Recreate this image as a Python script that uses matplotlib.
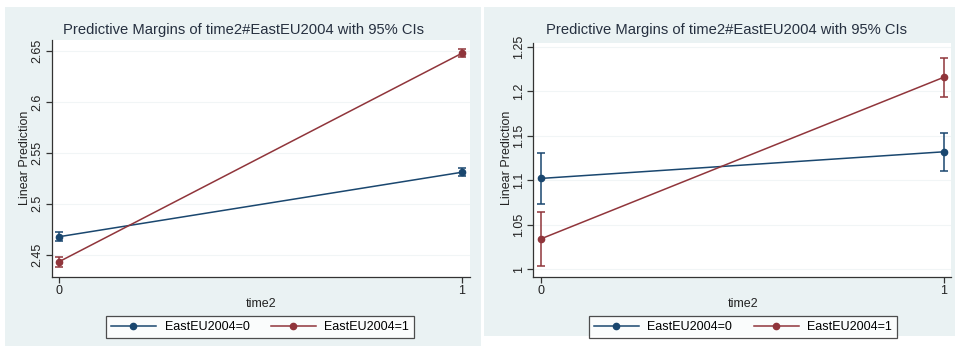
import matplotlib.pyplot as plt
from matplotlib.patches import Rectangle
from matplotlib.lines import Line2D

plt.rcParams['font.family'] = ['Liberation Sans', 'DejaVu Sans']

W, H = 958, 351

TITLE = "Predictive Margins of time2#EastEU2004 with 95% CIs"
X_VALUES = [0, 1]
LEGEND_LABELS = ["EastEU2004=0", "EastEU2004=1"]

# left panel
LEFT_EAST0 = [2.4676, 2.531]
LEFT_EAST0_CI = [0.0042, 0.0040]
LEFT_EAST1 = [2.443, 2.648]
LEFT_EAST1_CI = [0.0050, 0.0040]
LEFT_YTICKS = [2.45, 2.5, 2.55, 2.6, 2.65]
LEFT_YTICKLABELS = ["2.45", "2.5", "2.55", "2.6", "2.65"]

# right panel
RIGHT_EAST0 = [1.102, 1.132]
RIGHT_EAST0_CI = [0.029, 0.0215]
RIGHT_EAST1 = [1.034, 1.216]
RIGHT_EAST1_CI = [0.0305, 0.022]
RIGHT_YTICKS = [1.0, 1.05, 1.1, 1.15, 1.2, 1.25]
RIGHT_YTICKLABELS = ["1", "1.05", "1.1", "1.15", "1.2", "1.25"]

BLUE = '#1a476f'
RED = '#90353b'
BG = '#eaf2f3'


def px_rect(x0, y0, x1, y1):
    return [x0 / W, 1 - y1 / H, (x1 - x0) / W, (y1 - y0) / H]


fig = plt.figure(figsize=(W / 100, H / 100), dpi=100)

# panel backgrounds
for (x0, y0, x1, y1) in [(5, 7, 481, 346), (484, 7, 955, 336)]:
    fig.patches.append(Rectangle((x0 / W, 1 - y1 / H), (x1 - x0) / W, (y1 - y0) / H,
                                 transform=fig.transFigure, facecolor=BG,
                                 edgecolor='none', zorder=-5))

panels = [
    dict(rect=(52, 40, 470, 277), xlim=(-0.0174, 1.0199), ylim=(2.428, 2.661),
         s0=LEFT_EAST0, c0=LEFT_EAST0_CI, s1=LEFT_EAST1, c1=LEFT_EAST1_CI,
         yt=LEFT_YTICKS, ytl=LEFT_YTICKLABELS,
         title_x=243, xlab_x=261, ylab_x=25, leg_x=260),
    dict(rect=(533, 43, 951, 277), xlim=(-0.0199, 1.0174), ylim=(0.991, 1.2545),
         s0=RIGHT_EAST0, c0=RIGHT_EAST0_CI, s1=RIGHT_EAST1, c1=RIGHT_EAST1_CI,
         yt=RIGHT_YTICKS, ytl=RIGHT_YTICKLABELS,
         title_x=727, xlab_x=743, ylab_x=507, leg_x=743),
]

for p in panels:
    ax = fig.add_axes(px_rect(*p['rect']))
    ax.set_facecolor('white')
    for vals, ci, col in [(p['s0'], p['c0'], BLUE), (p['s1'], p['c1'], RED)]:
        ax.errorbar(X_VALUES, vals, yerr=ci, color=col, marker='o', markersize=4.5,
                    linewidth=1.1, elinewidth=1.1, capsize=3, capthick=1.1)
    ax.set_xlim(*p['xlim'])
    ax.set_ylim(*p['ylim'])
    ax.set_xticks(X_VALUES)
    ax.set_xticklabels(["0", "1"])
    ax.set_yticks(p['yt'])
    ax.set_yticklabels(p['ytl'], rotation=90, va='center')
    ax.grid(axis='y', color='#f1f5f6', linewidth=0.8)
    ax.set_axisbelow(True)
    for s in ['top', 'right']:
        ax.spines[s].set_visible(False)
    for s in ['left', 'bottom']:
        ax.spines[s].set_color('#333333')
        ax.spines[s].set_linewidth(0.9)
    ax.tick_params(axis='both', labelsize=9, length=4, width=0.9,
                   color='#333333', labelcolor='#222222', pad=2)

    fig.text(p['title_x'] / W, 1 - 30 / H, TITLE, ha='center', va='center',
             fontsize=10.6, color='#263040')
    fig.text(p['xlab_x'] / W, 1 - 304 / H, "time2", ha='center', va='center',
             fontsize=9, color='#222222')
    fig.text(p['ylab_x'] / W, 1 - 158 / H, "Linear Prediction", ha='center',
             va='center', rotation=90, fontsize=9, color='#222222')

    handles = [Line2D([0], [0], color=BLUE, marker='o', markersize=4.5, linewidth=1.1),
               Line2D([0], [0], color=RED, marker='o', markersize=4.5, linewidth=1.1)]
    leg = fig.legend(handles, LEGEND_LABELS, ncol=2, loc='center',
                     bbox_to_anchor=(p['leg_x'] / W, 1 - 327 / H),
                     fontsize=9, frameon=True, fancybox=False, handlelength=3.6,
                     columnspacing=1.7, borderpad=0.4, handletextpad=0.7)
    leg.get_frame().set_edgecolor('#222222')
    leg.get_frame().set_linewidth(0.9)

fig.savefig('out.png', dpi=100, facecolor='white')
